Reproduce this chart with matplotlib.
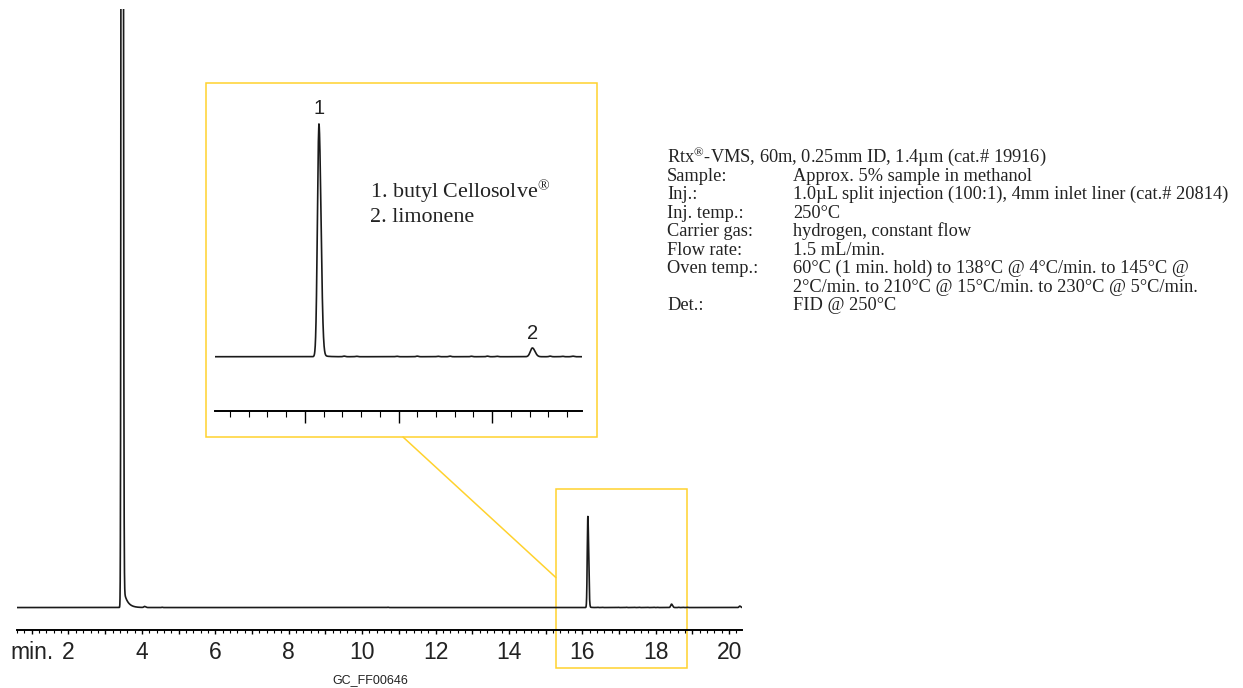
import numpy as np
import matplotlib.pyplot as plt
from matplotlib.patches import Rectangle, ConnectionPatch
from matplotlib.ticker import MultipleLocator

plt.rcParams['mathtext.fontset'] = 'custom'
plt.rcParams['mathtext.rm'] = 'Liberation Serif'
plt.rcParams['mathtext.it'] = 'Liberation Serif:italic'

# peaks: retention time (min), height, left/right widths, exponential tail
peak_rt = [3.46, 4.07, 16.15, 18.43, 20.29]
peak_height = [5000, 1.2, 100, 3.8, 1.6]
peak_sig_l = [0.016, 0.02, 0.016, 0.022, 0.02]
peak_sig_r = [0.02, 0.03, 0.022, 0.028, 0.025]
tail_height = [30, 0, 1.2, 0, 0]
tail_tau = [0.1, 1, 0.05, 1, 1]

# small baseline blips
blip_rt = [4.55, 10.7, 16.42, 16.55, 16.98, 17.2, 17.42, 17.55, 17.78, 17.95, 18.05, 18.62, 18.75, 18.86]
blip_height = [0.3, 0.3, 0.25, 0.2, 0.2, 0.25, 0.2, 0.25, 0.2, 0.25, 0.2, 0.25, 0.2, 0.25]

main_ticks = [2, 4, 6, 8, 10, 12, 14, 16, 18, 20]
main_tick_labels = ['2', '4', '6', '8', '10', '12', '14', '16', '18', '20']
peak_labels = ['1', '2']
compounds = ['1. butyl Cellosolve$^{\\mathrm{®}}$', '2. limonene']

column_line = 'Rtx$^{\\mathrm{®}}$-VMS, 60m, 0.25mm ID, 1.4µm (cat.# 19916)'
cond_keys = ['Sample:', 'Inj.:', 'Inj. temp.:', 'Carrier gas:', 'Flow rate:', 'Oven temp.:', '', 'Det.:']
cond_vals = ['Approx. 5% sample in methanol',
             '1.0µL split injection (100:1), 4mm inlet liner (cat.# 20814)',
             '250°C',
             'hydrogen, constant flow',
             '1.5 mL/min.',
             '60°C (1 min. hold) to 138°C @ 4°C/min. to 145°C @',
             '2°C/min. to 210°C @ 15°C/min. to 230°C @ 5°C/min.',
             'FID @ 250°C']

W, H = 1243, 688
gold = '#FFD22E'
ink = '#1a1a1a'
sans = 'Liberation Sans'
serif = 'Liberation Serif'


def trace(t):
    y = np.zeros_like(t)
    for rt, h, sl, sr, th, tau in zip(peak_rt, peak_height, peak_sig_l, peak_sig_r, tail_height, tail_tau):
        s = np.where(t < rt, sl, sr)
        y += h * np.exp(-0.5 * ((t - rt) / s) ** 2)
        y += np.where(t > rt, th * np.exp(-(t - rt) / tau), 0)
    for rt, h in zip(blip_rt, blip_height):
        y += h * np.exp(-0.5 * ((t - rt) / 0.012) ** 2)
    return y


t = np.linspace(0.6, 20.35, 40000)
sig = trace(t)

fig = plt.figure(figsize=(W / 100, H / 100), dpi=100)

# main chromatogram
ax = fig.add_axes([17.1 / W, (H - 629.5) / H, 724.9 / W, 620.5 / H])
ax.plot(t, sig, color=ink, lw=1.2)
ax.set_xlim(0.6, 20.35)
ax.set_ylim(-24.4, 665)
for s in ['left', 'right', 'top']:
    ax.spines[s].set_visible(False)
ax.spines['bottom'].set_linewidth(1.4)
ax.set_yticks([])
minutes = list(range(1, 21))
ax.set_xticks(minutes, labels=[main_tick_labels[main_ticks.index(m)] if m in main_ticks else '' for m in minutes])
ax.xaxis.set_minor_locator(MultipleLocator(0.2))
ax.tick_params(axis='x', which='major', length=3, width=1.0, pad=5.5, labelsize=16.5, labelcolor='#222222')
ax.tick_params(axis='x', which='minor', length=1.8, width=0.8)
for lab in ax.get_xticklabels():
    lab.set_family(sans)
ax.annotate('min.', xy=(2, 0), xycoords=('data', 'axes fraction'), xytext=(-11, -8.5),
            textcoords='offset points', ha='right', va='top', fontsize=16.5,
            family=sans, color='#222222')
fig.text(370 / W, 1 - 680 / H, 'GC_FF00646', ha='center', va='center',
         fontsize=9, family=sans, color='#222222')

# zoom window on main trace
ax.add_patch(Rectangle((15.28, -66.7), 3.57, 198.9, fill=False, edgecolor=gold, lw=1.1, clip_on=False))

# inset
axin = fig.add_axes([215 / W, (H - 411) / H, 367 / W, 311 / H])
axin.plot(t, sig, color=ink, lw=1.2)
axin.set_xlim(15.04, 18.96)
axin.set_ylim(-23.6, 111.6)
axin.patch.set_alpha(0)
for s in ['left', 'right', 'top']:
    axin.spines[s].set_visible(False)
axin.spines['bottom'].set_linewidth(1.4)
axin.set_yticks([])
axin.set_xticks([16, 17, 18], labels=['', '', ''])
axin.xaxis.set_minor_locator(MultipleLocator(0.2))
axin.tick_params(axis='x', which='major', length=8.6, width=1.0)
axin.tick_params(axis='x', which='minor', length=4.3, width=0.8)

for lab, rt, h, off in zip(peak_labels, peak_rt[2:4], peak_height[2:4], [6, 3.6]):
    axin.annotate(lab, xy=(rt, h), xytext=(0, off), textcoords='offset points',
                  ha='center', va='bottom', fontsize=14.5, family=sans, color='#222222')

for i, c in enumerate(compounds):
    fig.text(370 / W, 1 - (198 + 24 * i) / H, c, ha='left', va='baseline',
             fontsize=15.8, family=serif, color='#222222')

fig.add_artist(Rectangle((206 / W, 1 - 437 / H), 391 / W, 354 / H, transform=fig.transFigure,
                         fill=False, edgecolor=gold, lw=1.1))
fig.add_artist(ConnectionPatch(xyA=(403 / W, 1 - 437 / H), coordsA=fig.transFigure,
                               xyB=(15.28, 33.3), coordsB=ax.transData, color=gold, lw=1.1))

# run conditions
fig.text(667 / W, 1 - 162 / H, column_line, ha='left', va='baseline',
         fontsize=13.2, family=serif, color='#222222')
for i, (k, v) in enumerate(zip(cond_keys, cond_vals)):
    yb = 1 - (180.5 + 18.5 * i) / H
    fig.text(667 / W, yb, k, ha='left', va='baseline', fontsize=13.2,
             family=serif, color='#222222')
    fig.text(793 / W, yb, v, ha='left', va='baseline', fontsize=13.2,
             family=serif, color='#222222')

fig.savefig('out.png', dpi=100)
